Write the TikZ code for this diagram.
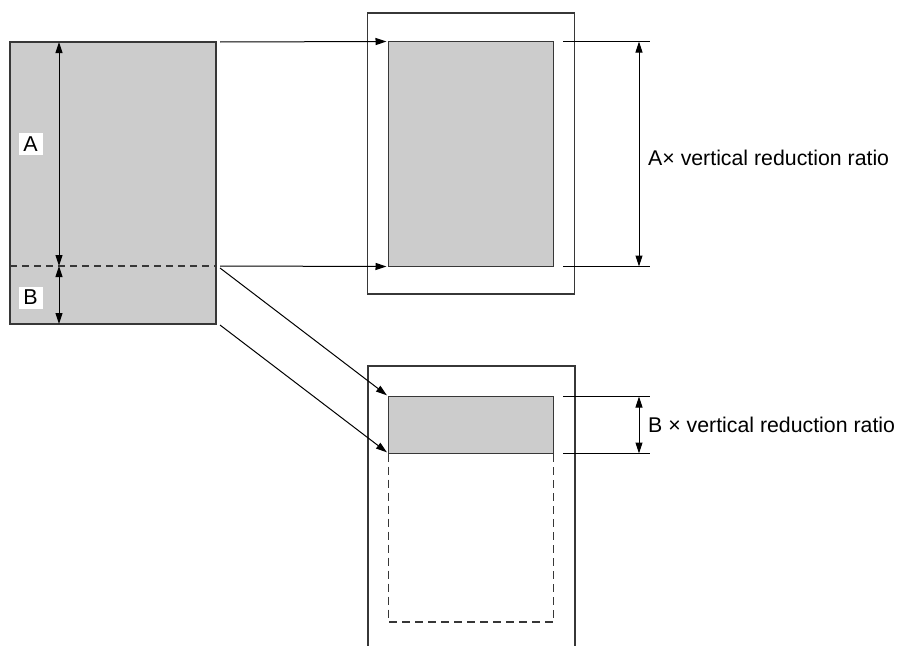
\documentclass[tikz,border=0pt]{standalone}
\usepackage{fontspec}
\setmainfont{Liberation Sans}
\usetikzlibrary{
  arrows.meta,
  calc,
  positioning,
}
\definecolor{sheetgray}{RGB}{204, 204, 204}
\definecolor{edgegray}{RGB}{55, 55, 55}
\tikzstyle{arrow} = [
  -{Triangle[length=11pt,width=7pt]},
  line width=1pt,
  black,
  shorten >=2pt,
]
\tikzstyle{dimline} = [
  {Triangle[length=11pt,width=7pt]}-{Triangle[length=11pt,width=7pt]},
  line width=1pt,
  black,
]
\tikzstyle{extline} = [line width=1pt, black]
\tikzstyle{sheet} = [draw=edgegray,rectangle,line width=1.4pt,fill=sheetgray,inner sep=0pt,outer sep=0pt]
\tikzstyle{pagebox} = [draw=edgegray,rectangle,line width=1.5pt,inner sep=0pt,outer sep=0pt]
\tikzstyle{letterbox} = [fill=white,inner sep=0pt,minimum width=24pt,minimum height=22pt,font=\fontsize{21.5}{21.5}\selectfont]
\tikzstyle{ratio} = [anchor=west,inner sep=0pt,font=\fontsize{21.3}{21.3}\selectfont]

\begin{document}
\begin{tikzpicture}[x=1pt,y=-1pt]
      \useasboundingbox (0,0) rectangle (899,645);

      % original sheet, split into A and B
      \node[sheet,minimum width=206,minimum height=282]    (src)   at (113,183)  {};
      \coordinate (cutw) at (10,266);
      \coordinate (cute) at (216,266);
      \draw[edgegray,line width=1.3pt,dash pattern=on 7pt off 5pt] (cutw) -- (cute);
      \coordinate (dimtop) at (59,42);
      \coordinate (dimcut) at (59,266);
      \coordinate (dimbot) at (59,324);
      \draw[dimline] (dimtop) -- (dimcut);
      \draw[dimline] (dimcut) -- (dimbot);
      \node[letterbox]    (labA)   at (30.5,144)  {A};
      \node[letterbox]    (labB)   at (30.5,297.5)  {B};

      % upper page: A part
      \node[pagebox,minimum width=207,minimum height=281]    (page1)   at (471,153.5)  {};
      \node[sheet,minimum width=165,minimum height=225]    (img1)   at (471,154)  {};

      % lower page: B part
      \draw[edgegray,line width=1.5pt] (368,650) -- (368,366) -- (575,366) -- (575,650);
      \node[sheet,minimum width=165,minimum height=57]    (img2)   at (471,425)  {};
      \coordinate (dashsw) at (388.5,622);
      \coordinate (dashse) at (553.5,622);
      \draw[edgegray,line width=1.3pt,dash pattern=on 8pt off 5pt] (img2.south west) -- (dashsw) -- (dashse) -- (img2.south east);

      % arrows from the sheet
      \coordinate (fromA) at (220,42);
      \coordinate (fromcut) at (220,266);
      \coordinate (fromcut2) at (220,268);
      \coordinate (fromB) at (220,325);
      \draw[arrow] (fromA) -- (img1.north west);
      \draw[arrow] (fromcut) -- (img1.south west);
      \draw[arrow] (fromcut2) -- (img2.north west);
      \draw[arrow] (fromB) -- (img2.south west);

      % dimensions on the right
      \foreach \y/\n in {41.5/a1, 266.5/a2, 396.5/b1, 453.5/b2} {
        \coordinate (ext\n w) at (563,\y);
        \coordinate (ext\n e) at (650,\y);
        \coordinate (dim\n) at (639,\y);
        \draw[extline] (ext\n w) -- (ext\n e);
      }
      \draw[dimline] (dima1) -- (dima2);
      \draw[dimline] (dimb1) -- (dimb2);
      \node[ratio]    (txtA)   at (648,158)  {A× vertical reduction ratio};
      \node[ratio]    (txtB)   at (648,425)  {B × vertical reduction ratio};

    \end{tikzpicture}
\end{document}
